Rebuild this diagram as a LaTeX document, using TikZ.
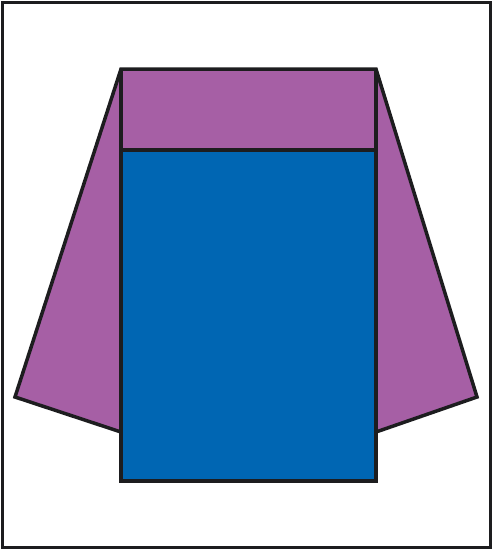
\documentclass[tikz,border=0pt]{standalone}
\usepackage{tikz}

\definecolor{capepurple}{HTML}{A65FA5}
\definecolor{bodyblue}{HTML}{0066B3}
\definecolor{inkline}{HTML}{1D1D1F}

\begin{document}
\begin{tikzpicture}
	[x=1pt, y=-1pt, outline/.style={draw=inkline, line width=3.5pt, line join=miter},
	cape/.style={outline, fill=capepurple}, body/.style={outline, fill=bodyblue}]
	\useasboundingbox (0,0) rectangle (494,550);
	\draw[inkline, line width=3pt] (2.5,2.5) rectangle (490.5,547);
	% corners of the cape and the body
	\coordinate (topleft) at (121,69);
	\coordinate (topright) at (376,69);
	\coordinate (tipleft) at (15,397);
	\coordinate (tipright) at (477,397);
	\coordinate (footleft) at (121,432);
	\coordinate (footright) at (376,432);
	\coordinate (bandleft) at (121,150);
	\coordinate (bandright) at (376,150);
	\coordinate (bottomright) at (376,481);
	\draw[cape] (topleft) -- (topright) -- (tipright) -- (footright) -- (footleft) -- (tipleft) -- cycle;
	\draw[body] (bandleft) rectangle (bottomright);
	\draw[outline] (topleft) -- (bandleft);
	\draw[outline] (topright) -- (bandright);
\end{tikzpicture}
\end{document}
